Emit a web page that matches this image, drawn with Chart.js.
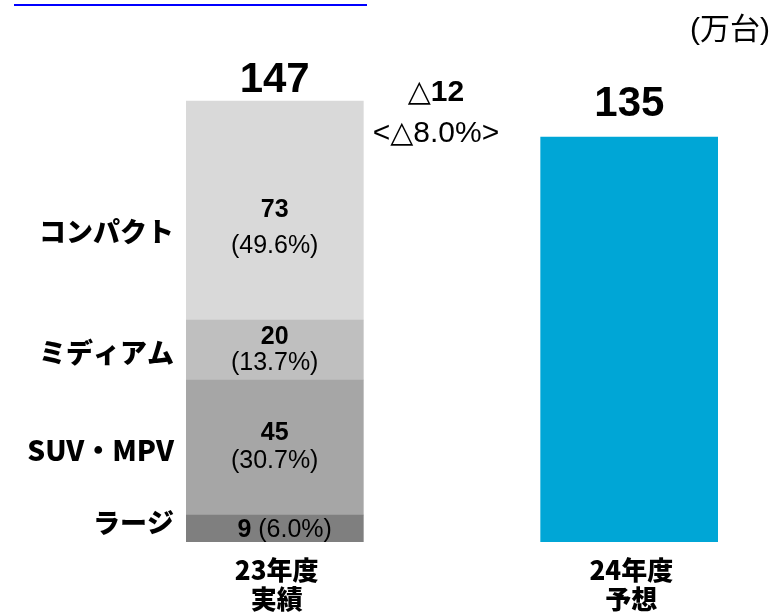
<!DOCTYPE html>
<html>
<head>
<meta charset="utf-8">
<script src="https://cdn.jsdelivr.net/npm/chart.js@4"></script>
<style>
  body { margin: 0; background: #fff; }
  #wrap { position: relative; width: 773px; height: 613px; }
  #topline { position: absolute; left: 14px; top: 4px; width: 353px; height: 2px; background: #0000ff; }
</style>
</head>
<body>
<div id="wrap">
  <canvas id="salesChart" width="773" height="613"></canvas>
  <div id="topline"></div>
</div>
<script>
// data
const categories = [['23年度', '実績'], [], ['24年度', '予想']];
const segmentNames = ['ラージ', 'SUV・MPV', 'ミディアム', 'コンパクト'];
const actual23 = [9, 45, 20, 73];
const shares23 = ['6.0%', '30.7%', '13.7%', '49.6%'];
const forecast24 = 135;
const total23 = 147;
const diffUnits = '12';
const diffRate = '8.0%';
const unitLabel = '(万台)';

// styles
const segColors = ['#7f7f7f', '#a6a6a6', '#bfbfbf', '#d9d9d9'];
const forecastColor = '#00a6d6';
const labelShift = [0, 0, 0, 18];
const labelGap = [0, 14, 13, 18];
const NUM = "'Liberation Sans', 'DejaVu Sans', 'Noto Sans CJK JP', sans-serif";
const JP = "'Noto Sans CJK JP', sans-serif";

const datasets = segmentNames.map((name, i) => ({
  label: name,
  data: [actual23[i], null, null],
  backgroundColor: segColors[i],
  stack: 's'
}));
datasets.push({
  label: '24年度予想',
  data: [null, null, forecast24],
  backgroundColor: forecastColor,
  stack: 's'
});

const labelPlugin = {
  id: 'labels',
  afterDatasetsDraw(chart) {
    const ctx = chart.ctx;
    const xs = chart.scales.x;
    const ys = chart.scales.y;
    ctx.save();
    ctx.fillStyle = '#000';
    ctx.textBaseline = 'middle';

    segmentNames.forEach((name, i) => {
      const bar = chart.getDatasetMeta(i).data[0];
      const mid = (bar.y + bar.base) / 2 + labelShift[i];
      ctx.textAlign = 'center';
      if (i === 0) {
        const a = actual23[i] + ' ';
        ctx.font = '25px ' + NUM;
        const b = '(' + shares23[i] + ')';
        const wb = ctx.measureText(b).width;
        ctx.font = 'bold 25px ' + NUM;
        const wa = ctx.measureText(a).width;
        const left = bar.x + 10 - (wa + wb) / 2;
        ctx.textAlign = 'left';
        ctx.fillText(a, left, mid + 2);
        ctx.font = '25px ' + NUM;
        ctx.fillText(b, left + wa, mid + 2);
      } else {
        ctx.font = 'bold 25px ' + NUM;
        ctx.fillText(String(actual23[i]), bar.x, mid - labelGap[i]);
        ctx.font = '25px ' + NUM;
        ctx.fillText('(' + shares23[i] + ')', bar.x, mid + labelGap[i]);
      }
      ctx.textAlign = 'right';
      ctx.font = (i === 1 ? '900 28px ' : '900 27px ') + JP;
      ctx.fillText(name, 174, i === 0 ? mid - 6 : mid + 3);
    });

    // totals
    ctx.textAlign = 'center';
    ctx.font = 'bold 42px ' + NUM;
    ctx.fillText(String(total23), xs.getPixelForValue(0), ys.getPixelForValue(total23) - 21);
    ctx.fillText(String(forecast24), xs.getPixelForValue(2), ys.getPixelForValue(forecast24) - 33);

    // difference
    const cx = xs.getPixelForValue(1) - 16;
    ctx.font = '30px ' + NUM;
    const tri = '△';
    const wt = ctx.measureText(tri).width;
    ctx.font = 'bold 30px ' + NUM;
    const wn = ctx.measureText(diffUnits).width;
    const l = cx - (wt + wn) / 2;
    ctx.textAlign = 'left';
    ctx.font = '30px ' + NUM;
    ctx.fillText(tri, l, 93);
    ctx.font = 'bold 30px ' + NUM;
    ctx.fillText(diffUnits, l + wt, 93);
    ctx.textAlign = 'center';
    ctx.font = '30px ' + NUM;
    ctx.fillText('<△' + diffRate + '>', cx, 134);

    // unit
    ctx.textAlign = 'right';
    ctx.font = '30px ' + NUM;
    ctx.fillText(unitLabel, 770, 31);

    // category labels
    ctx.textAlign = 'center';
    ctx.font = '900 26px ' + JP;
    categories.forEach((lines, i) => {
      lines.forEach((t, k) => {
        ctx.fillText(t, xs.getPixelForValue(i) + 2, 570 + k * 29);
      });
    });
    ctx.restore();
  }
};

new Chart(document.getElementById('salesChart'), {
  type: 'bar',
  data: { labels: categories.map(c => c.join('')), datasets },
  options: {
    responsive: false,
    animation: false,
    layout: { padding: { left: 186, right: 55, top: 62, bottom: 71 } },
    barPercentage: 1,
    categoryPercentage: 1,
    plugins: { legend: { display: false }, tooltip: { enabled: false } },
    scales: {
      x: { stacked: true, display: false },
      y: { stacked: true, display: false, min: 0, max: 160 }
    }
  },
  plugins: [labelPlugin]
});
</script>
</body>
</html>
